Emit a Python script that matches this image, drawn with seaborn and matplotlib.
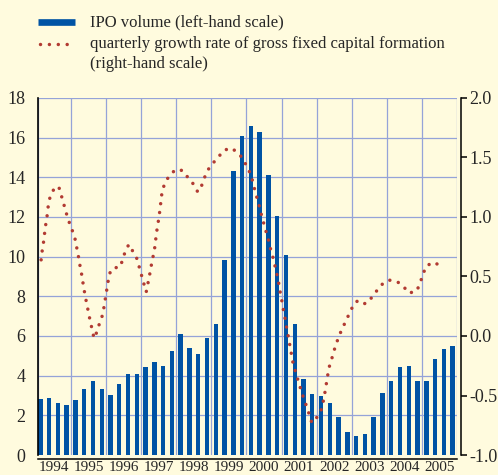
import numpy as np
import pandas as pd
import matplotlib
matplotlib.use("Agg")
from matplotlib import pyplot as plt
from matplotlib.lines import Line2D
import seaborn as sns

# quarterly IPO volume, 1994 Q1 - 2005 Q4 (left-hand scale)
years = [str(y) for y in range(1994, 2006)]
ipo_volume = [2.82, 2.87, 2.63, 2.51,
              2.75, 3.32, 3.75, 3.32,
              3.04, 3.56, 4.08, 4.08,
              4.44, 4.68, 4.51, 5.22,
              6.08, 5.37, 5.08, 5.91,
              6.62, 9.85, 14.30, 16.10,
              16.58, 16.30, 14.14, 12.05,
              10.08, 6.60, 3.84, 3.10,
              2.98, 2.64, 1.94, 1.16,
              0.94, 1.04, 1.94, 3.15,
              3.74, 4.43, 4.50, 3.74,
              3.74, 4.83, 5.35, 5.52]

# growth rate of gross fixed capital formation (right-hand scale),
# read along the smoothed curve; x in quarter positions (0 = 1994 Q1)
growth_x = [0.09, 0.20, 0.35, 0.46, 0.58, 0.74, 0.85, 0.96, 1.26, 1.79,
            2.17, 2.44, 2.70, 2.97, 3.27, 3.58, 3.92, 4.10, 4.30, 4.44,
            4.64, 4.79, 4.94, 5.13, 5.32, 5.51, 5.70, 5.89, 6.12, 6.42,
            6.72, 7.06, 7.25, 7.40, 7.56, 7.71, 7.86, 8.24, 9.11, 9.42,
            9.72, 10.10, 10.55, 11.01, 11.27, 11.54, 11.80, 12.07, 12.26, 12.45,
            12.64, 12.83, 13.02, 13.14, 13.25, 13.40, 13.55, 13.66, 13.77, 13.89,
            14.23, 14.73, 15.45, 16.24, 16.84, 17.41, 17.95, 18.37, 18.71, 19.05,
            19.65, 20.26, 20.91, 21.78, 22.50, 23.10, 23.56, 23.98, 24.24, 24.47,
            24.74, 25.00, 25.23, 25.49, 25.76, 26.03, 26.25, 26.52, 26.74, 26.97,
            27.16, 27.31, 27.50, 27.65, 27.85, 27.99, 28.19, 28.34, 28.53, 28.68,
            28.87, 29.18, 29.44, 29.75, 30.04, 30.35, 30.66, 30.95, 31.57, 32.02,
            32.25, 32.43, 32.59, 32.74, 32.89, 33.19, 33.45, 33.76, 34.10, 34.48,
            34.90, 35.32, 35.73, 36.26, 37.06, 37.74, 38.35, 38.88, 39.71, 40.62,
            41.35, 42.03, 42.94, 43.28, 43.63, 43.89, 44.72, 45.40]
growth_y = [0.64, 0.71, 0.78, 0.85, 0.92, 0.99, 1.06, 1.13, 1.20, 1.26,
            1.24, 1.17, 1.10, 1.03, 0.96, 0.90, 0.83, 0.76, 0.69, 0.62,
            0.55, 0.48, 0.41, 0.33, 0.26, 0.19, 0.12, 0.06, -0.02, 0.03,
            0.10, 0.17, 0.24, 0.31, 0.38, 0.45, 0.52, 0.57, 0.58, 0.65,
            0.72, 0.77, 0.71, 0.65, 0.58, 0.51, 0.44, 0.37, 0.44, 0.51,
            0.59, 0.66, 0.73, 0.80, 0.87, 0.94, 1.01, 1.08, 1.15, 1.22,
            1.29, 1.35, 1.40, 1.39, 1.33, 1.28, 1.21, 1.26, 1.33, 1.39,
            1.45, 1.50, 1.56, 1.58, 1.54, 1.49, 1.42, 1.36, 1.29, 1.22,
            1.15, 1.08, 1.01, 0.94, 0.87, 0.80, 0.73, 0.66, 0.59, 0.52,
            0.45, 0.38, 0.31, 0.24, 0.17, 0.10, 0.03, -0.04, -0.11, -0.18,
            -0.25, -0.32, -0.39, -0.46, -0.53, -0.59, -0.66, -0.73, -0.68, -0.62,
            -0.55, -0.48, -0.41, -0.34, -0.27, -0.20, -0.13, -0.06, 0.01, 0.07,
            0.14, 0.20, 0.27, 0.30, 0.27, 0.32, 0.38, 0.43, 0.47, 0.46,
            0.42, 0.36, 0.38, 0.45, 0.51, 0.58, 0.62, 0.60]

bg = "#fffbde"
blue = "#0053a4"
red = "#b23b32"
grid = "#95a3d8"
dots = (0, (0.01, 2.55))

sns.set_style("white")
plt.rcParams["font.family"] = ["Liberation Serif", "DejaVu Serif"]
plt.rcParams["axes.unicode_minus"] = False

fig = plt.figure(figsize=(4.98, 4.75), dpi=100, facecolor=bg)
ax = fig.add_axes([0.0757, 0.0421, 0.842, 0.7516], facecolor=bg)

bars = pd.DataFrame({"q": np.arange(len(ipo_volume)), "ipo": ipo_volume})
sns.barplot(data=bars, x="q", y="ipo", ax=ax, color=blue, saturation=1,
            width=0.5, linewidth=0)

ax.set_xlim(-0.3, 47.5)
ax.set_ylim(0, 18)
ax.set_yticks(range(0, 19, 2))
ax.set_xticks([-0.3] + [3.5 + 4 * i for i in range(11)] + [47.5])
ax.set_xticklabels([])
ax.set_xticks([1.5 + 4 * i for i in range(12)], minor=True)
ax.set_xticklabels(years, minor=True)
ax.set_xlabel("")
ax.set_ylabel("")
ax.set_axisbelow(True)
ax.grid(True, which="major", color=grid, linewidth=0.9)
ax.yaxis.get_gridlines()[0].set_visible(False)

ax.tick_params(axis="y", length=0, pad=9, labelsize=13)
ax.tick_params(axis="x", which="major", direction="in", length=4, width=1.1,
               color="black")
ax.tick_params(axis="x", which="minor", length=0, pad=1.5, labelsize=11)
for s in ["top", "right"]:
    ax.spines[s].set_visible(False)
ax.spines["left"].set_color("black")
ax.spines["left"].set_linewidth(1.2)
ax.spines["bottom"].set_color("black")
ax.spines["bottom"].set_linewidth(1.1)
ax.spines["bottom"].set_position(("outward", 3))

ax2 = ax.twinx()
sns.lineplot(x=growth_x, y=growth_y, ax=ax2, color=red, linewidth=2.5)
ln = ax2.lines[0]
ln.set_linestyle(dots)
ln.set_dash_capstyle("round")
ax2.set_ylim(-1, 2)
ax2.set_yticks(np.arange(-1, 2.01, 0.5))
ax2.set_yticklabels([f"{v:.1f}" for v in np.arange(-1, 2.01, 0.5)])
ax2.tick_params(axis="y", direction="out", length=4, width=1.1, pad=2,
                labelsize=13, color="black")
for s in ["top", "left", "bottom"]:
    ax2.spines[s].set_visible(False)
ax2.spines["right"].set_color("black")
ax2.spines["right"].set_linewidth(1.1)
ax2.spines["right"].set_position(("outward", 3))

# legend drawn by hand
fig.add_artist(Line2D([38 / 498, 75 / 498], [1 - 22 / 475] * 2, color=blue,
                      linewidth=4.8, solid_capstyle="butt"))
fig.add_artist(Line2D([40 / 498, 74 / 498], [1 - 43.5 / 475] * 2, color=red,
                      linewidth=2.5, linestyle=dots, dash_capstyle="round"))
fig.text(90 / 498, 1 - 22 / 475, "IPO volume (left-hand scale)",
         fontsize=12, va="center", ha="left")
fig.text(90 / 498, 1 - 43.5 / 475,
         "quarterly growth rate of gross fixed capital formation",
         fontsize=12, va="center", ha="left")
fig.text(90 / 498, 1 - 63.5 / 475, "(right-hand scale)",
         fontsize=12, va="center", ha="left")

fig.savefig("out.png", dpi=100, facecolor=bg)
